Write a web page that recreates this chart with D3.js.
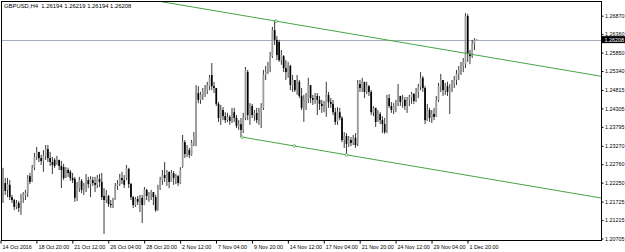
<!DOCTYPE html>
<html lang="en">

<head>
    <meta charset="UTF-8">
    <script src="https://cdn.jsdelivr.net/npm/d3@7"></script>
    <title>GBPUSD H4</title>
    <style>
        body {
            margin: 0;
            background: #fff;
        }

        svg {
            display: block;
            font-family: "Liberation Sans", Arial, sans-serif;
        }

        .axis text {
            fill: #000;
        }

        .axis line {
            stroke: #000;
        }
    </style>
</head>

<body>
    <div id="chart"></div>
    <script>
        /*-------------------------------------------------------*/
        /*------------------------ Data -------------------------*/
        /*-------------------------------------------------------*/
        const symbolTitle = "GBPUSD,H4";
        const lastQuote = [1.26194, 1.26219, 1.26194, 1.26208];
        const currentPrice = 1.26208;

        // one H4 candle per entry, 14 Oct 2016 -> 2 Dec 2016
        const open = [1.2205,1.2224,1.2205,1.2219,1.2185,1.2177,1.2158,1.2169,1.2155,1.2185,
            1.2191,1.2196,1.2243,1.2230,1.2266,1.2296,1.2310,1.2293,1.2285,1.2299,
            1.2318,1.2293,1.2282,1.2288,1.2277,1.2288,1.2271,1.2268,1.2243,1.2260,
            1.2255,1.2238,1.2235,1.2188,1.2210,1.2230,1.2208,1.2216,1.2232,1.2221,
            1.2232,1.2224,1.2219,1.2235,1.2227,1.2188,1.2177,1.2188,1.2166,1.2163,
            1.2177,1.2216,1.2221,1.2238,1.2232,1.2238,1.2263,1.2221,1.2185,1.2163,
            1.2180,1.2172,1.2183,1.2163,1.2205,1.2188,1.2194,1.2199,1.2185,1.2152,
            1.2210,1.2232,1.2246,1.2238,1.2255,1.2227,1.2252,1.2238,1.2243,1.2224,
            1.2271,1.2337,1.2304,1.2315,1.2302,1.2335,1.2329,1.2473,1.2454,1.2468,
            1.2476,1.2481,1.2492,1.2523,1.2492,1.2487,1.2443,1.2404,1.2426,1.2409,
            1.2398,1.2407,1.2396,1.2420,1.2404,1.2382,1.2387,1.2371,1.2404,1.2531,
            1.2412,1.2437,1.2412,1.2418,1.2398,1.2420,1.2432,1.2523,1.2531,1.2548,
            1.2575,1.2647,1.2620,1.2614,1.2564,1.2575,1.2542,1.2531,1.2548,1.2495,
            1.2509,1.2481,1.2504,1.2465,1.2432,1.2454,1.2459,1.2495,1.2459,1.2454,
            1.2465,1.2454,1.2443,1.2437,1.2432,1.2468,1.2448,1.2443,1.2420,1.2393,
            1.2420,1.2404,1.2343,1.2354,1.2332,1.2343,1.2335,1.2349,1.2332,1.2498,
            1.2487,1.2504,1.2476,1.2492,1.2476,1.2420,1.2432,1.2393,1.2415,1.2398,
            1.2387,1.2371,1.2459,1.2437,1.2426,1.2437,1.2443,1.2465,1.2448,1.2454,
            1.2437,1.2456,1.2462,1.2470,1.2451,1.2476,1.2490,1.2515,1.2487,1.2398,
            1.2426,1.2404,1.2415,1.2407,1.2454,1.2492,1.2509,1.2481,1.2492,1.2476,
            1.2487,1.2498,1.2509,1.2526,1.2537,1.2548,1.2553,1.2686,1.2581,1.2575,
            1.2609,1.26194];
        const high = [1.2266,1.2238,1.2238,1.2232,1.2191,1.2180,1.2177,1.2174,1.2194,1.2199,
            1.2205,1.2246,1.2252,1.2274,1.2307,1.2324,1.2310,1.2302,1.2315,1.2329,
            1.2329,1.2310,1.2296,1.2293,1.2299,1.2288,1.2285,1.2277,1.2268,1.2266,
            1.2260,1.2252,1.2241,1.2227,1.2241,1.2235,1.2224,1.2249,1.2241,1.2243,
            1.2241,1.2241,1.2246,1.2249,1.2252,1.2210,1.2205,1.2191,1.2177,1.2183,
            1.2224,1.2232,1.2249,1.2255,1.2246,1.2274,1.2266,1.2224,1.2188,1.2185,
            1.2188,1.2191,1.2191,1.2213,1.2208,1.2199,1.2205,1.2196,1.2191,1.2219,
            1.2241,1.2260,1.2282,1.2260,1.2255,1.2260,1.2257,1.2249,1.2246,1.2268,
            1.2357,1.2343,1.2329,1.2321,1.2343,1.2365,1.2495,1.2492,1.2476,1.2487,
            1.2495,1.2504,1.2523,1.2556,1.2504,1.2487,1.2448,1.2440,1.2434,1.2420,
            1.2418,1.2412,1.2432,1.2432,1.2412,1.2398,1.2404,1.2418,1.2545,1.2537,
            1.2445,1.2443,1.2426,1.2432,1.2432,1.2445,1.2537,1.2548,1.2559,1.2587,
            1.2656,1.2675,1.2631,1.2620,1.2592,1.2578,1.2564,1.2559,1.2551,1.2523,
            1.2509,1.2523,1.2509,1.2487,1.2468,1.2473,1.2515,1.2481,1.2468,1.2473,
            1.2473,1.2465,1.2454,1.2451,1.2504,1.2476,1.2459,1.2454,1.2432,1.2434,
            1.2432,1.2409,1.2365,1.2362,1.2354,1.2351,1.2357,1.2362,1.2509,1.2509,
            1.2515,1.2504,1.2504,1.2495,1.2481,1.2437,1.2432,1.2426,1.2420,1.2409,
            1.2404,1.2468,1.2470,1.2448,1.2445,1.2454,1.2498,1.2465,1.2468,1.2462,
            1.2462,1.2468,1.2476,1.2473,1.2487,1.2498,1.2531,1.2520,1.2492,1.2443,
            1.2432,1.2426,1.2432,1.2465,1.2501,1.2526,1.2509,1.2501,1.2504,1.2498,
            1.2509,1.2520,1.2537,1.2548,1.2559,1.2570,1.2694,1.2692,1.2592,1.2620,
            1.2625,1.26219];
        const low = [1.2169,1.2191,1.2185,1.2177,1.2169,1.2149,1.2152,1.2144,1.2136,1.2169,
            1.2177,1.2185,1.2221,1.2227,1.2260,1.2288,1.2282,1.2274,1.2255,1.2288,
            1.2282,1.2271,1.2249,1.2266,1.2274,1.2260,1.2210,1.2232,1.2238,1.2241,
            1.2230,1.2224,1.2172,1.2174,1.2199,1.2196,1.2191,1.2199,1.2210,1.2185,
            1.2216,1.2199,1.2210,1.2213,1.2177,1.2083,1.2169,1.2158,1.2155,1.2155,
            1.2177,1.2205,1.2216,1.2221,1.2210,1.2232,1.2210,1.2177,1.2155,1.2158,
            1.2163,1.2144,1.2113,1.2163,1.2177,1.2172,1.2177,1.2163,1.2144,1.2147,
            1.2205,1.2219,1.2227,1.2216,1.2210,1.2227,1.2219,1.2221,1.2216,1.2221,
            1.2266,1.2293,1.2296,1.2293,1.2299,1.2326,1.2326,1.2445,1.2443,1.2454,
            1.2462,1.2470,1.2481,1.2481,1.2473,1.2437,1.2393,1.2385,1.2398,1.2390,
            1.2393,1.2385,1.2390,1.2393,1.2376,1.2371,1.2351,1.2362,1.2398,1.2398,
            1.2385,1.2404,1.2396,1.2390,1.2385,1.2376,1.2426,1.2509,1.2526,1.2531,
            1.2570,1.2606,1.2564,1.2559,1.2551,1.2531,1.2509,1.2515,1.2481,1.2476,
            1.2476,1.2468,1.2459,1.2426,1.2393,1.2426,1.2445,1.2445,1.2440,1.2443,
            1.2412,1.2426,1.2418,1.2420,1.2407,1.2432,1.2432,1.2412,1.2385,1.2385,
            1.2398,1.2337,1.2321,1.2302,1.2324,1.2326,1.2329,1.2321,1.2326,1.2476,
            1.2476,1.2459,1.2470,1.2465,1.2412,1.2409,1.2379,1.2393,1.2387,1.2362,
            1.2360,1.2362,1.2432,1.2418,1.2415,1.2420,1.2437,1.2437,1.2432,1.2426,
            1.2418,1.2437,1.2443,1.2443,1.2448,1.2459,1.2481,1.2476,1.2387,1.2396,
            1.2393,1.2390,1.2398,1.2407,1.2448,1.2476,1.2465,1.2468,1.2465,1.2415,
            1.2476,1.2487,1.2495,1.2509,1.2523,1.2531,1.2542,1.2559,1.2553,1.2570,
            1.2592,1.26194];
        const close = [1.2227,1.2202,1.2221,1.2185,1.2177,1.2158,1.2169,1.2155,1.2185,1.2191,
            1.2196,1.2238,1.2227,1.2266,1.2296,1.2310,1.2293,1.2285,1.2299,1.2318,
            1.2293,1.2282,1.2274,1.2271,1.2293,1.2271,1.2260,1.2238,1.2260,1.2252,
            1.2238,1.2232,1.2183,1.2210,1.2232,1.2205,1.2216,1.2232,1.2221,1.2235,
            1.2224,1.2219,1.2238,1.2227,1.2185,1.2177,1.2191,1.2166,1.2163,1.2177,
            1.2216,1.2221,1.2238,1.2232,1.2219,1.2266,1.2221,1.2185,1.2163,1.2180,
            1.2172,1.2183,1.2163,1.2205,1.2188,1.2194,1.2199,1.2185,1.2149,1.2210,
            1.2232,1.2246,1.2238,1.2255,1.2227,1.2252,1.2238,1.2243,1.2224,1.2260,
            1.2337,1.2304,1.2315,1.2302,1.2335,1.2354,1.2473,1.2454,1.2468,1.2476,
            1.2481,1.2495,1.2515,1.2492,1.2487,1.2443,1.2404,1.2426,1.2409,1.2398,
            1.2407,1.2396,1.2420,1.2404,1.2382,1.2387,1.2371,1.2404,1.2537,1.2412,
            1.2437,1.2412,1.2418,1.2398,1.2420,1.2432,1.2523,1.2531,1.2548,1.2575,
            1.2647,1.2620,1.2578,1.2564,1.2578,1.2542,1.2531,1.2548,1.2495,1.2509,
            1.2481,1.2504,1.2465,1.2432,1.2454,1.2465,1.2495,1.2459,1.2454,1.2465,
            1.2454,1.2443,1.2437,1.2445,1.2468,1.2448,1.2443,1.2420,1.2393,1.2420,
            1.2404,1.2343,1.2354,1.2332,1.2343,1.2335,1.2349,1.2329,1.2498,1.2487,
            1.2504,1.2476,1.2492,1.2476,1.2420,1.2432,1.2393,1.2415,1.2398,1.2387,
            1.2365,1.2459,1.2437,1.2426,1.2437,1.2443,1.2481,1.2448,1.2454,1.2437,
            1.2456,1.2462,1.2470,1.2451,1.2476,1.2490,1.2515,1.2487,1.2398,1.2426,
            1.2404,1.2415,1.2407,1.2454,1.2492,1.2509,1.2481,1.2492,1.2476,1.2487,
            1.2498,1.2509,1.2526,1.2537,1.2548,1.2559,1.2686,1.2581,1.2575,1.2609,
            1.2620,1.26208];

        // time axis: one label every 16 candles
        const timeLabels = ["14 Oct 2016", "18 Oct 20:00", "21 Oct 12:00", "26 Oct 04:00", "28 Oct 20:00",
            "2 Nov 12:00", "7 Nov 04:00", "9 Nov 20:00", "14 Nov 12:00", "17 Nov 04:00",
            "21 Nov 20:00", "24 Nov 12:00", "29 Nov 04:00", "1 Dec 20:00"];
        const timeLabelStep = 16;

        // price scale labels
        const priceTicks = [1.26870, 1.26360, 1.25850, 1.25340, 1.24815, 1.24305, 1.23795,
            1.23270, 1.22760, 1.22250, 1.21725, 1.21215, 1.20705];

        // equidistant channel: two base points (candle index, price) and the parallel point
        const channelBase = [[106.5, 1.2351], [153, 1.2302]];
        const channelTop = [121.6, 1.2672];

        /*-------------------------------------------------------*/
        /*------------------- Window setting --------------------*/
        /*-------------------------------------------------------*/
        const width = 625, height = 252;
        const plot = { left: 1.5, top: 1.5, right: 601.5, bottom: 240.5 };
        const barStep = 2.245;

        const svg = d3.select("#chart").append("svg")
            .attr("width", width)
            .attr("height", height);

        /*-------------------------------------------------------*/
        /*------------------------ Scales -----------------------*/
        /*-------------------------------------------------------*/
        const n = close.length;
        const x = d3.scaleLinear()
            .domain([0, n - 1])
            .range([3, 3 + (n - 1) * barStep]);

        const y = d3.scaleLinear()
            .domain([1.20663, 1.27249])
            .range([240, 2]);

        svg.append("defs").append("clipPath").attr("id", "plotclip")
            .append("rect")
            .attr("x", plot.left).attr("y", plot.top)
            .attr("width", plot.right - plot.left).attr("height", plot.bottom - plot.top);

        const g = svg.append("g").attr("clip-path", "url(#plotclip)");

        /*-------------------------------------------------------*/
        /*------------------- current price line ----------------*/
        /*-------------------------------------------------------*/
        g.append("line")
            .attr("x1", plot.left).attr("x2", plot.right)
            .attr("y1", Math.round(y(currentPrice)) + 0.5)
            .attr("y2", Math.round(y(currentPrice)) + 0.5)
            .attr("stroke", "#a3adbb")
            .attr("stroke-width", 1);

        /*-------------------------------------------------------*/
        /*------------------------ Candles ----------------------*/
        /*-------------------------------------------------------*/
        const candles = d3.range(n).map(i => ({
            i: i, o: open[i], h: high[i], l: low[i], c: close[i]
        }));

        g.selectAll("line.wick")
            .data(candles)
            .enter()
            .append("line")
            .attr("class", "wick")
            .attr("x1", d => x(d.i)).attr("x2", d => x(d.i))
            .attr("y1", d => y(d.h)).attr("y2", d => y(d.l))
            .attr("stroke", "#222")
            .attr("stroke-width", 0.9);

        g.selectAll("rect.body")
            .data(candles)
            .enter()
            .append("rect")
            .attr("class", "body")
            .attr("x", d => x(d.i) - 0.85)
            .attr("width", 1.7)
            .attr("y", d => y(Math.max(d.o, d.c)))
            .attr("height", d => Math.max(0.8, Math.abs(y(d.o) - y(d.c))))
            .attr("fill", d => d.c >= d.o ? "#9c9c9c" : "#000");

        /*-------------------------------------------------------*/
        /*----------------------- Channel -----------------------*/
        /*-------------------------------------------------------*/
        const slope = (channelBase[1][1] - channelBase[0][1]) / (channelBase[1][0] - channelBase[0][0]);
        const lineEnd = 300;
        const green = "#44a544";

        g.append("line")
            .attr("x1", x(channelBase[0][0])).attr("y1", y(channelBase[0][1]))
            .attr("x2", x(lineEnd)).attr("y2", y(channelBase[0][1] + slope * (lineEnd - channelBase[0][0])))
            .attr("stroke", green).attr("stroke-width", 1);

        g.append("line")
            .attr("x1", x(0)).attr("y1", y(channelTop[1] + slope * (0 - channelTop[0])))
            .attr("x2", x(lineEnd)).attr("y2", y(channelTop[1] + slope * (lineEnd - channelTop[0])))
            .attr("stroke", green).attr("stroke-width", 1);

        const midIdx = (channelBase[0][0] + channelBase[1][0]) / 2;
        const markers = [
            channelBase[0],
            [midIdx, channelBase[0][1] + slope * (midIdx - channelBase[0][0])],
            channelBase[1],
            channelTop
        ];
        g.selectAll("circle.anchor")
            .data(markers)
            .enter()
            .append("circle")
            .attr("class", "anchor")
            .attr("cx", d => x(d[0])).attr("cy", d => y(d[1]))
            .attr("r", 1.3)
            .attr("fill", "#fff")
            .attr("stroke", green)
            .attr("stroke-width", 0.8);

        /*-------------------------------------------------------*/
        /*------------------------ Axes -------------------------*/
        /*-------------------------------------------------------*/
        const yAxis = svg.append("g")
            .attr("class", "axis")
            .attr("transform", `translate(${plot.right},0)`)
            .call(d3.axisRight(y).tickValues(priceTicks).tickFormat(d3.format(".5f")).tickSize(2).tickPadding(1.5));
        yAxis.select(".domain").remove();
        yAxis.selectAll("text").style("font-size", "5.4px");

        const xAxis = svg.append("g")
            .attr("class", "axis")
            .attr("transform", `translate(0,${plot.bottom})`)
            .call(d3.axisBottom(x)
                .tickValues(timeLabels.map((d, k) => k * timeLabelStep))
                .tickFormat((d, k) => timeLabels[k])
                .tickSize(3)
                .tickPadding(2));
        xAxis.select(".domain").remove();
        xAxis.selectAll(".tick line").attr("transform", "translate(-2.5,0)");
        xAxis.selectAll("text")
            .attr("text-anchor", "start")
            .attr("x", -1)
            .style("font-size", "5.4px");

        // plot frame
        svg.append("rect")
            .attr("x", plot.left).attr("y", plot.top)
            .attr("width", plot.right - plot.left).attr("height", plot.bottom - plot.top)
            .attr("fill", "none")
            .attr("stroke", "#000")
            .attr("stroke-width", 1);

        // current price marker on the price scale
        const cy = y(currentPrice);
        svg.append("rect")
            .attr("x", plot.right + 0.5).attr("y", cy - 3.5)
            .attr("width", 24).attr("height", 7)
            .attr("fill", "#000");
        svg.append("text")
            .attr("x", plot.right + 3).attr("y", cy + 2)
            .attr("fill", "#fff")
            .style("font-size", "5.4px")
            .text(d3.format(".5f")(currentPrice));

        /*-------------------------------------------------------*/
        /*------------------------ Title ------------------------*/
        /*-------------------------------------------------------*/
        svg.append("text")
            .attr("x", 4).attr("y", 8)
            .style("font-size", "5.9px")
            .style("white-space", "pre")
            .attr("fill", "#000")
            .text(`${symbolTitle}  ${lastQuote.map(d3.format(".5f")).join(" ")}`);
    </script>
</body>

</html>
